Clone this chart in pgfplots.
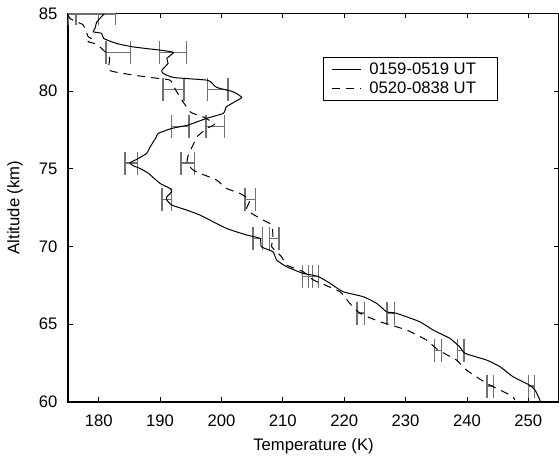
\documentclass[border=0pt]{standalone}
\usepackage{pgfplots}
\pgfplotsset{compat=1.18}
\usepackage{fontspec}
\setmainfont{Liberation Sans}
\definecolor{errgray}{RGB}{112,112,112}
\begin{document}
\begin{tikzpicture}
\useasboundingbox (-51pt,-44.475pt) rectangle (368.25pt,301.275pt);
\begin{axis}[
  scale only axis, width=368.25pt, height=291.3pt,
  at={(0,0)}, anchor=south west,
  xmin=175, xmax=255, ymin=60, ymax=85,
  xtick={180,190,...,250}, ytick={60,65,...,85},
  tick align=inside, major tick length=3.5pt,
  tick style={black, line width=0.5pt},
  axis line style={black, line width=1.2pt},
  /pgf/number format/assume math mode=true,
  font=\fontsize{12.5}{15}\selectfont,
  ticklabel style={font=\fontsize{12.5}{15}\selectfont},
  xticklabel style={yshift=-6.5pt},
  yticklabel style={xshift=-4.5pt},
  xlabel={Temperature (K)}, ylabel={Altitude (km)},
  x label style={at={(axis description cs:0.5,-0.114)}, anchor=center},
  y label style={at={(axis description cs:-0.108,0.5)}, anchor=center, rotate=0},
  legend style={at={(axis description cs:0.519,0.888)}, anchor=north west,
    draw=black, line width=0.9pt, font=\fontsize{12.5}{15}\selectfont,
    inner xsep=6pt, inner ysep=2pt, row sep=0pt, column sep=4pt, cells={anchor=west}},
  legend image code/.code={\draw[#1, line width=0.75pt] (0pt,0pt) -- (21.75pt,0pt);},
]
% error bars, solid series
\addplot[draw=none, mark=none, forget plot,
  error bars/.cd, x dir=both, x explicit,
  error bar style={draw=errgray, line width=1.1pt},
  error mark options={rotate=90, draw=errgray, mark size=8.6pt, line width=1.1pt}]
  table[x=T, y=A, x error=E] {
T A E
179.5 84.97 3.2
192.1 82.48 2.2
199.4 80.10 1.7
193.3 77.70 1.4
185.3 75.35 1.0
191.1 73.00 0.75
205.9 70.50 0.75
215.0 68.05 0.8
227.6 65.70 0.6
239.0 63.30 0.5
250.5 61.00 0.5
};
% error bars, dashed series
\addplot[draw=none, mark=none, forget plot,
  error bars/.cd, x dir=both, x explicit,
  error bar style={draw=errgray, line width=1.1pt},
  error mark options={rotate=90, draw=errgray, mark size=8.6pt, line width=1.1pt}]
  table[x=T, y=A, x error=E] {
T A E
177.5 84.97 2.5
183.2 82.48 2.0
192.2 80.10 1.7
199.0 77.70 1.5
194.5 75.35 1.1
204.7 73.00 0.85
208.6 70.50 0.75
214.0 68.05 0.8
222.7 65.70 0.6
235.3 63.30 0.55
243.8 61.00 0.5
};
\addplot[black, line width=0.75pt, smooth, tension=0.3] table[x=T, y=A] {
T A
180.9 84.98
180.7 84.88
179.7 84.45
179.4 84.03
179.1 83.81
180.5 83.71
180.8 83.38
182.9 83.06
185.4 82.85
188.0 82.72
190.0 82.63
192.2 82.48
191.1 82.10
191.3 81.78
190.3 81.34
190.5 81.13
192.2 80.87
197.6 80.70
198.4 80.53
199.2 80.23
201.9 79.95
203.3 79.59
202.2 79.31
200.8 78.98
200.3 78.56
197.6 78.24
194.6 77.81
191.9 77.59
189.7 77.27
189.4 77.05
188.4 76.41
187.8 75.98
186.2 75.60
185.1 75.38
185.6 75.19
186.7 75.02
188.1 74.70
190.0 74.05
191.6 73.73
191.9 73.51
191.1 73.19
191.1 72.98
191.9 72.66
194.3 72.34
196.5 72.01
200.8 71.16
204.1 70.73
206.3 70.51
206.5 69.97
208.4 69.65
209.0 69.12
210.6 68.69
213.3 68.26
215.7 68.07
217.7 67.62
219.8 67.08
223.1 66.76
225.3 66.33
226.9 65.79
228.5 65.69
232.3 65.15
234.5 64.61
237.2 64.08
238.8 63.54
239.7 63.11
243.2 62.68
245.4 62.25
247.5 61.61
250.2 61.07
251.1 60.75
251.9 60.10
252.0 60.00
};
\addlegendentry{0159-0519 UT\hspace*{8pt}}
\addplot[black, line width=0.75pt, dash pattern=on 6pt off 4.5pt, smooth, tension=0.3] table[x=T, y=A] {
T A
175.0 84.92
175.3 84.67
176.4 84.45
177.5 84.24
178.3 83.49
179.1 83.32
178.3 83.17
179.7 83.00
181.3 82.42
181.8 82.10
181.7 81.34
184.6 81.09
188.4 80.87
191.6 80.70
192.4 80.17
193.2 79.63
194.3 78.98
195.1 78.60
197.0 78.34
198.9 77.87
197.6 77.59
196.0 77.05
195.7 76.80
194.6 75.87
194.4 75.34
195.4 74.91
196.5 74.70
199.2 74.27
200.8 73.73
203.0 73.41
204.6 72.98
204.1 72.44
204.9 72.12
206.8 71.69
208.2 71.37
208.4 70.51
208.2 69.97
209.8 69.33
210.6 68.80
213.3 68.37
215.0 67.83
219.3 67.08
220.9 66.33
222.6 65.69
225.8 65.15
230.2 64.61
233.4 63.97
235.3 63.33
238.3 62.68
239.9 62.04
243.2 61.18
245.4 60.75
247.5 60.32
247.8 60.10
};
\addlegendentry{0520-0838 UT\hspace*{8pt}}
\end{axis}
\end{tikzpicture}
\end{document}
